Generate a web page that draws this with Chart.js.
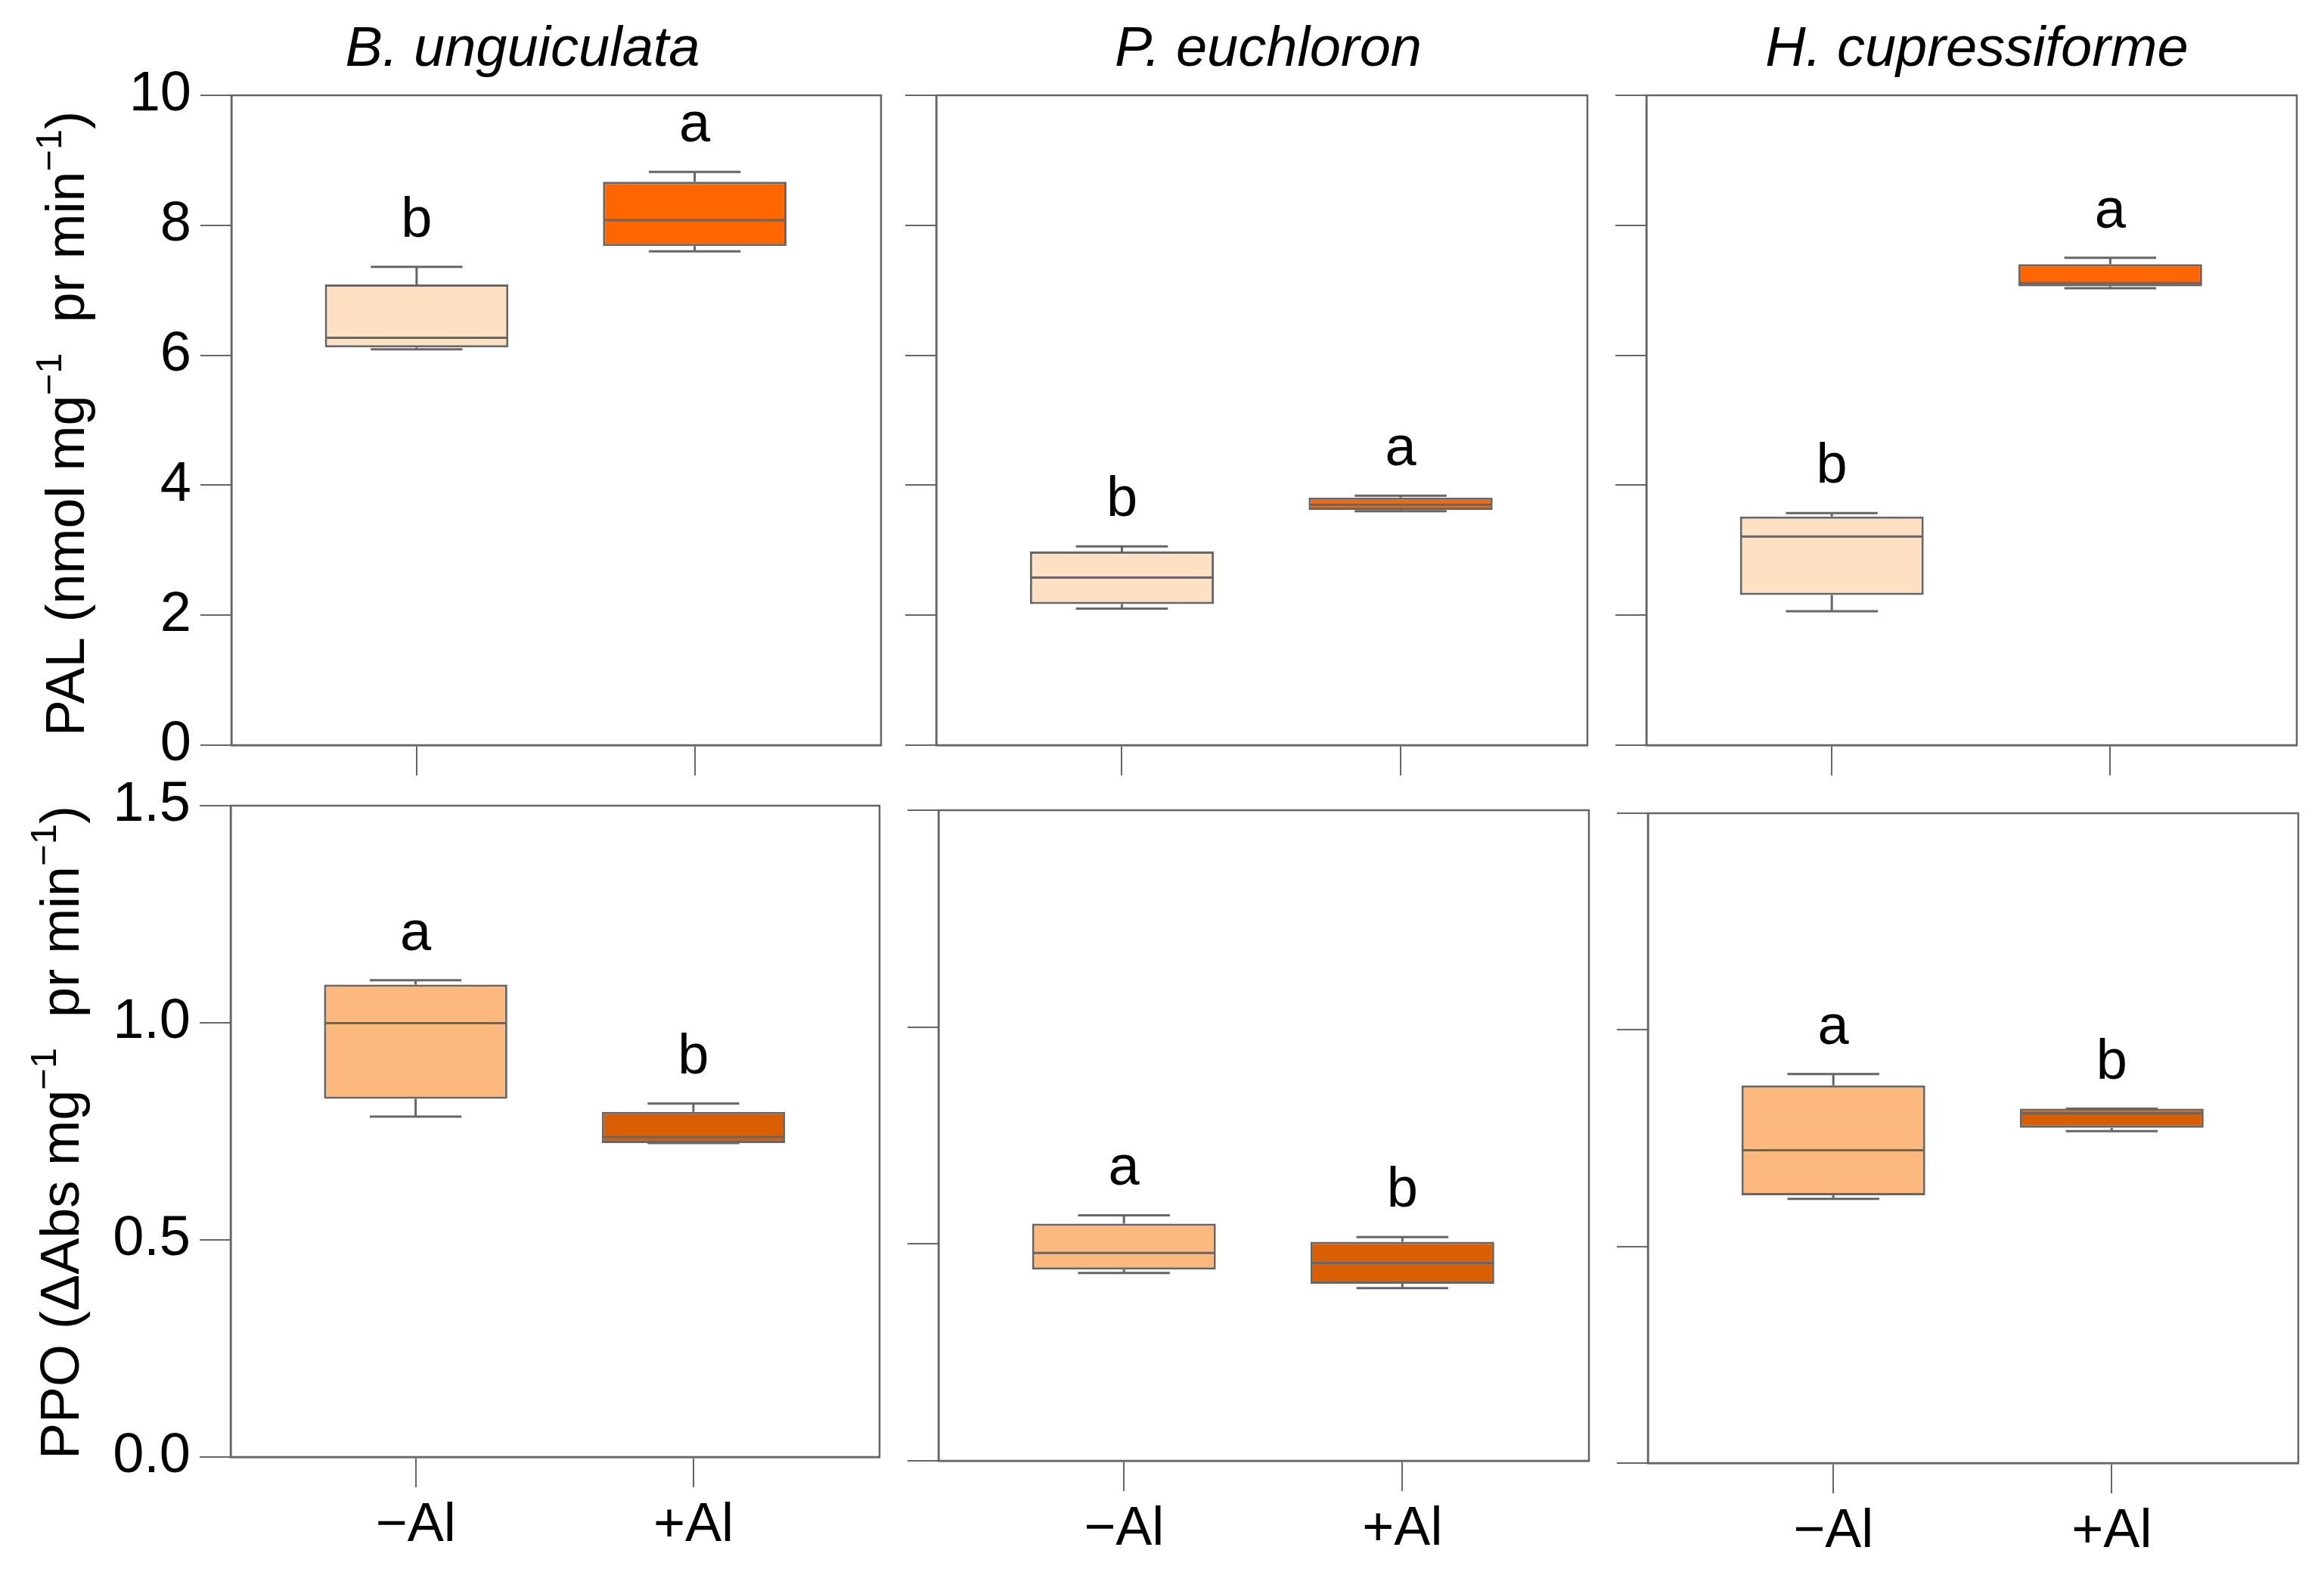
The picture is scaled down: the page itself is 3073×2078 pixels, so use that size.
<!DOCTYPE html>
<html><head><meta charset="utf-8">
<script src="https://cdn.jsdelivr.net/npm/chart.js@4.4.1/dist/chart.umd.min.js"></script>
<style>
html,body{margin:0;padding:0;background:#fff;}
#wrap{position:relative;width:3073px;height:2078px;overflow:hidden;background:#fff;}
#wrap canvas{position:absolute;left:0;top:0;}
</style></head>
<body><div id="wrap"></div>
<script>
// ---------- data ----------
const categories = ['\u2212Al', '+Al'];
const species = ['B. unguiculata', 'P. euchloron', 'H. cupressiforme'];
// five-number summaries per species: [min, q1, median, q3, max]
const palMinusAl = [[6.09, 6.12, 6.27, 7.09, 7.36], [2.10, 2.17, 2.58, 2.98, 3.06], [2.06, 2.31, 3.21, 3.52, 3.57]];
const palPlusAl  = [[7.60, 7.68, 8.08, 8.67, 8.82], [3.60, 3.62, 3.70, 3.81, 3.84], [7.03, 7.06, 7.11, 7.40, 7.50]];
const ppoMinusAl = [[0.784, 0.825, 0.999, 1.088, 1.098], [0.433, 0.441, 0.479, 0.547, 0.566], [0.610, 0.618, 0.722, 0.872, 0.898]];
const ppoPlusAl  = [[0.723, 0.723, 0.737, 0.795, 0.814], [0.398, 0.408, 0.456, 0.505, 0.516], [0.766, 0.774, 0.807, 0.818, 0.818]];
const palLetters = [['b', 'a'], ['b', 'a'], ['b', 'a']];
const ppoLetters = [['a', 'b'], ['a', 'b'], ['a', 'b']];
const palTicks = [0, 2, 4, 6, 8, 10];
const ppoTicks = [0, 0.5, 1.0, 1.5];

// ---------- layout / style ----------
const W = 3073, H = 2078;
const FAM = '"Liberation Sans", Arial, Helvetica, sans-serif';
const EDGE = '#666666';
const rows = [
  {
    ytitle: [['PAL (nmol mg', 0], ['\u22121', 1], ['  pr min', 0], ['\u22121', 1], [')', 0]],
    ybase: 111, ycenter: 560, ticks: palTicks, dec: 0,
    minus: palMinusAl, plus: palPlusAl, letters: palLetters,
    colors: ['#FEE0C2', '#FF6600'], showX: false,
    rects: [[306, 126, 1165, 985], [1238, 126, 2099, 985], [2177, 126, 3037, 985]]
  },
  {
    ytitle: [['PPO (\u0394Abs mg', 0], ['\u22121', 1], ['  pr min', 0], ['\u22121', 1], [')', 0]],
    ybase: 104, ycenter: 1497, ticks: ppoTicks, dec: 1,
    minus: ppoMinusAl, plus: ppoPlusAl, letters: ppoLetters,
    colors: ['#FDB97D', '#D95F02'], showX: true,
    rects: [[305, 1065, 1163, 1926], [1241, 1071, 2101, 1931], [2179, 1075, 3039, 1934]]
  }
];
const titleX = [691, 1677, 2614];

function drawRich(ctx, segs, x, cy, size) {
  ctx.save();
  ctx.translate(x, cy);
  ctx.rotate(-Math.PI / 2);
  const fMain = size + 'px ' + FAM, fSup = Math.round(size * 0.68) + 'px ' + FAM;
  let total = 0;
  segs.forEach(([t, s]) => { ctx.font = s ? fSup : fMain; total += ctx.measureText(t).width; });
  let px = -total / 2;
  ctx.textBaseline = 'alphabetic'; ctx.textAlign = 'left'; ctx.fillStyle = '#000';
  segs.forEach(([t, s]) => {
    ctx.font = s ? fSup : fMain;
    ctx.fillText(t, px, s ? -size * 0.42 : 0);
    px += ctx.measureText(t).width;
  });
  ctx.restore();
}

const boxPlugin = {
  id: 'boxp',
  afterDatasetsDraw(chart, args, opts) {
    const ctx = chart.ctx, ys = chart.scales.y;
    const ds = chart.data.datasets[0], meta = chart.getDatasetMeta(0);
    const p = v => ys.getPixelForValue(v);
    ctx.save();
    ctx.strokeStyle = EDGE; ctx.lineWidth = 3; ctx.lineCap = 'butt';
    meta.data.forEach((el, i) => {
      const s = ds.stats[i], x = el.x, hw = el.width / 2, cw = el.width / 4;
      ctx.beginPath();
      ctx.moveTo(x, p(s[3])); ctx.lineTo(x, p(s[4]));
      ctx.moveTo(x - cw, p(s[4])); ctx.lineTo(x + cw, p(s[4]));
      ctx.moveTo(x, p(s[1])); ctx.lineTo(x, p(s[0]));
      ctx.moveTo(x - cw, p(s[0])); ctx.lineTo(x + cw, p(s[0]));
      ctx.moveTo(x - hw + 1.5, p(s[2])); ctx.lineTo(x + hw - 1.5, p(s[2]));
      ctx.stroke();
      ctx.fillStyle = '#000';
      ctx.font = '74px ' + FAM;
      ctx.textAlign = 'center'; ctx.textBaseline = 'alphabetic';
      ctx.fillText(ds.letters[i], x, p(s[4]) - 40);
    });
    const a = chart.chartArea;
    ctx.lineWidth = 2.5;
    ctx.strokeRect(a.left, a.top, a.right - a.left, a.bottom - a.top);
    ctx.restore();
  },
  afterDraw(chart, args, opts) {
    const ctx = chart.ctx;
    if (opts.title) {
      ctx.save();
      ctx.font = 'italic 74px ' + FAM;
      ctx.fillStyle = '#000'; ctx.textAlign = 'center'; ctx.textBaseline = 'alphabetic';
      ctx.fillText(opts.title, opts.titleX, 87);
      ctx.restore();
    }
    if (opts.ytitle) drawRich(ctx, opts.ytitle, opts.ybase, opts.ycenter, 72);
  }
};

const wrap = document.getElementById('wrap');
rows.forEach((row, r) => {
  row.rects.forEach((rect, col) => {
    const [L, T, R, B] = rect;
    const cv = document.createElement('canvas');
    cv.width = W; cv.height = H;
    cv.style.width = W + 'px'; cv.style.height = H + 'px';
    wrap.appendChild(cv);
    const mn = row.minus[col], pl = row.plus[col];
    const yTick = 41, yAxisW = 250, xTick = 40, xAxisH = 140;
    new Chart(cv, {
      type: 'bar',
      data: {
        datasets: [{
          data: [{ x: 1, y: [mn[1], mn[3]] }, { x: 2, y: [pl[1], pl[3]] }],
          stats: [mn, pl],
          letters: row.letters[col],
          backgroundColor: row.colors,
          borderColor: EDGE, borderWidth: 3, borderSkipped: false,
          barPercentage: 0.66, categoryPercentage: 1
        }]
      },
      options: {
        responsive: false, devicePixelRatio: 1, animation: false, events: [],
        layout: { autoPadding: false, padding: { left: L - yAxisW, top: T, right: W - R, bottom: H - B - xAxisH } },
        plugins: {
          legend: { display: false }, tooltip: { enabled: false }, title: { display: false },
          boxp: {
            title: r === 0 ? species[col] : null, titleX: titleX[col],
            ytitle: col === 0 ? row.ytitle : null, ybase: row.ybase, ycenter: row.ycenter
          }
        },
        scales: {
          x: {
            type: 'linear', min: 0.334, max: 2.67, offset: false, bounds: 'data',
            afterBuildTicks: s => { s.ticks = [{ value: 1 }, { value: 2 }]; },
            afterFit: s => { s.height = xAxisH; },
            grid: { display: true, drawOnChartArea: false, drawTicks: true, tickLength: xTick, color: EDGE, lineWidth: 2, offset: false },
            border: { display: true, color: EDGE, width: 2.5 },
            ticks: {
              display: row.showX, autoSkip: false, maxRotation: 0, padding: 8,
              callback: v => categories[Math.round(v) - 1],
              font: { family: FAM, size: 72 }, color: '#000'
            }
          },
          y: {
            min: row.ticks[0], max: row.ticks[row.ticks.length - 1], bounds: 'data',
            afterBuildTicks: s => { s.ticks = row.ticks.map(v => ({ value: v })); },
            afterFit: s => { s.width = yAxisW; },
            grid: { display: true, drawOnChartArea: false, drawTicks: true, tickLength: yTick, color: EDGE, lineWidth: 2 },
            border: { display: true, color: EDGE, width: 2.5 },
            ticks: {
              display: col === 0, padding: 12,
              callback: v => Number(v).toFixed(row.dec),
              font: { family: FAM, size: 74 }, color: '#000'
            }
          }
        }
      },
      plugins: [boxPlugin]
    });
  });
});
</script>
</body></html>
